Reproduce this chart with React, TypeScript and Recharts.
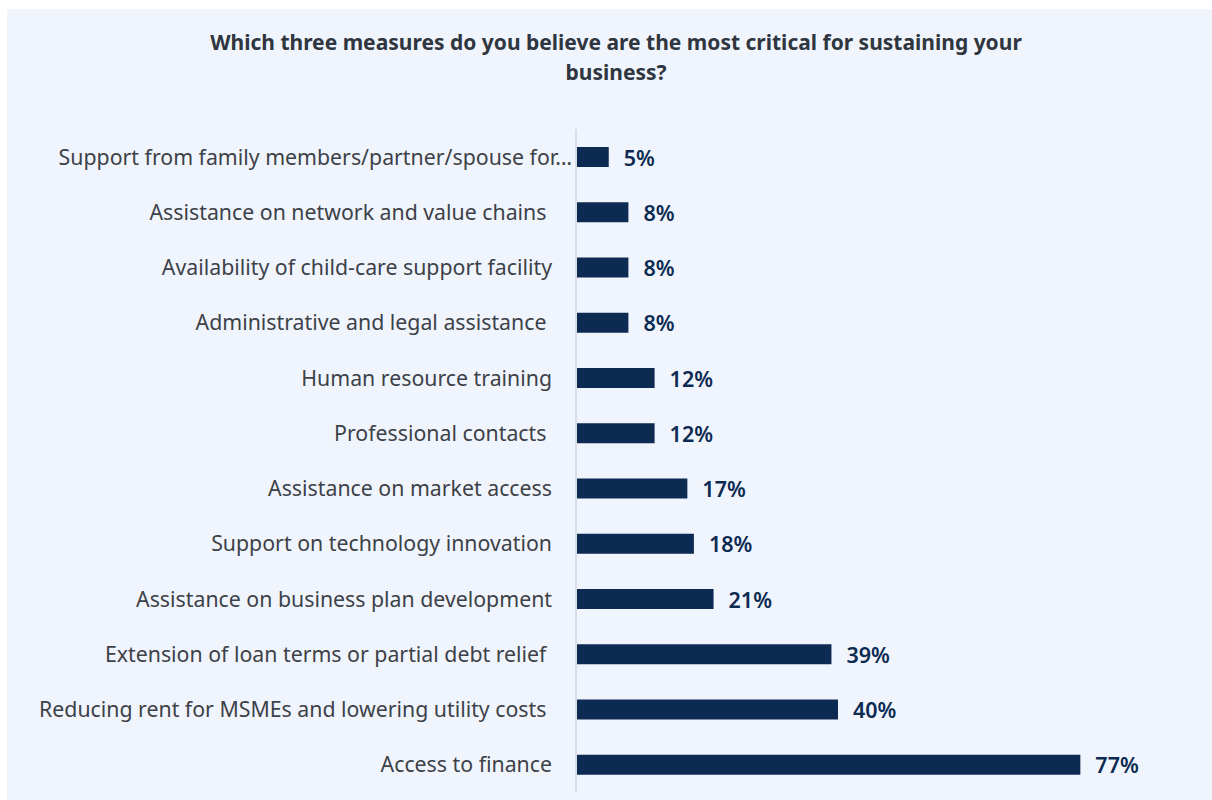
import { BarChart, Bar, XAxis, YAxis, LabelList } from 'recharts';

const categories = [
  'Support from family members/partner/spouse for…',
  'Assistance on network and value chains ',
  'Availability of child-care support facility',
  'Administrative and legal assistance ',
  'Human resource training',
  'Professional contacts ',
  'Assistance on market access',
  'Support on technology innovation',
  'Assistance on business plan development',
  'Extension of loan terms or partial debt relief ',
  'Reducing rent for MSMEs and lowering utility costs ',
  'Access to finance',
];

const shares = [5, 8, 8, 8, 12, 12, 17, 18, 21, 39, 40, 77];

const chartData = categories.map((name, i) => ({ name, value: shares[i] }));

const FONT = '"Noto Sans", "Open Sans", sans-serif';

function CategoryTick(props: any) {
  const { x, y, payload } = props;
  const label: string = payload.value;
  // Excel-style truncated label sits closer to the axis
  const dx = label.endsWith('…') ? 4 : -16;
  return (
    <text
      x={x + dx}
      y={y}
      dy={8}
      textAnchor="end"
      fill="#3d4148"
      fontSize={21.3}
      fontFamily={FONT}
      style={{ whiteSpace: 'pre' }}
    >
      {label}
    </text>
  );
}

export default function App() {
  return (
    <div style={{ position: 'absolute', left: 0, top: 0, width: 1212, height: 800, background: '#ffffff' }}>
      <div
        style={{
          position: 'absolute',
          left: 7,
          top: 9,
          width: 1205,
          height: 791,
          background: '#f0f5fd',
        }}
      />
      <div
        style={{
          position: 'absolute',
          left: 196,
          top: 27,
          width: 840,
          textAlign: 'center',
          fontFamily: FONT,
          fontWeight: 700,
          fontSize: 21,
          lineHeight: '30px',
          color: '#2f3640',
        }}
      >
        Which three measures do you believe are the most critical for sustaining your business?
      </div>
      <div style={{ position: 'absolute', left: 0, top: 0 }}>
        <BarChart
          layout="vertical"
          width={1212}
          height={800}
          data={chartData}
          margin={{ top: 129, right: 112, bottom: 8, left: 0 }}
          barCategoryGap={0}
        >
          <XAxis type="number" domain={[0, 80]} hide />
          <YAxis
            type="category"
            dataKey="name"
            width={576}
            axisLine={{ stroke: '#d9dee6', strokeWidth: 2 }}
            tickLine={false}
            tick={<CategoryTick />}
            interval={0}
          />
          <Bar dataKey="value" fill="#0c2a52" barSize={20} isAnimationActive={false}>
            <LabelList
              dataKey="value"
              position="right"
              offset={15}
              dy={1}
              formatter={(v: any) => `${v}%`}
              fill="#0c2a52"
              fontSize={21.5}
              fontWeight={600}
              fontFamily={FONT}
            />
          </Bar>
        </BarChart>
      </div>
    </div>
  );
}
